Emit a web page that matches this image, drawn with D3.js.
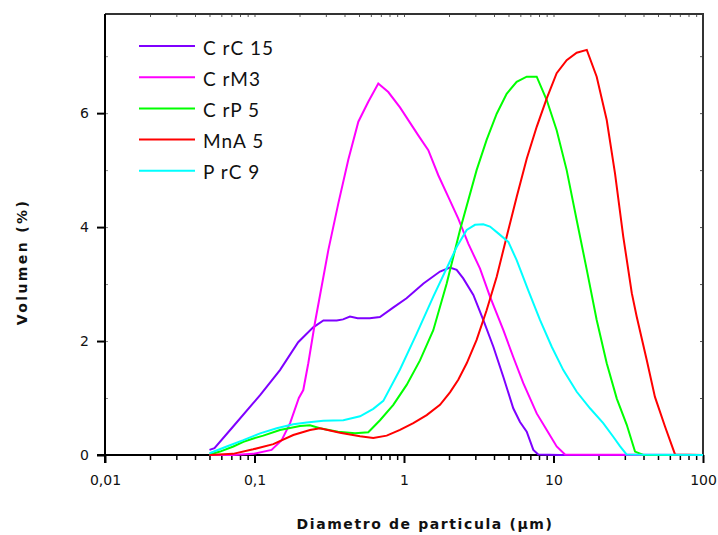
<!DOCTYPE html>
<html>
<head>
<meta charset="utf-8">
<script src="https://cdn.jsdelivr.net/npm/d3@7"></script>
<style>
  html, body { margin: 0; padding: 0; background: #fff; }
  svg { display: block; }
</style>
</head>
<body>
<svg id="chart" width="718" height="535"></svg>
<script>
// ---- Data (particle size in µm, volume in %) ----
const seriesNames = ["C rC 15", "C rM3", "C rP 5", "MnA 5", "P rC 9"];
const seriesColors = ["#7f00ff", "#ff00ff", "#00ff00", "#ff0000", "#00ffff"];

const sizeCrC15 = [0.05, 0.054, 0.072, 0.098, 0.109, 0.148, 0.196, 0.247, 0.289, 0.355, 0.391, 0.435, 0.49, 0.59, 0.69, 0.85, 1.04, 1.35, 1.74, 2.03, 2.25, 2.49, 2.91, 3.39, 3.96, 4.62, 5.38, 5.97, 6.62, 7.33, 7.91, 11, 100];
const volCrC15  = [0.09, 0.12, 0.5, 0.91, 1.05, 1.49, 1.98, 2.24, 2.36, 2.36, 2.38, 2.43, 2.40, 2.40, 2.42, 2.59, 2.75, 3.01, 3.22, 3.29, 3.25, 3.10, 2.81, 2.37, 1.90, 1.37, 0.82, 0.58, 0.41, 0.09, 0.01, 0, 0];

const sizeCrM3 = [0.05, 0.072, 0.098, 0.130, 0.152, 0.173, 0.198, 0.212, 0.229, 0.254, 0.312, 0.364, 0.424, 0.495, 0.577, 0.673, 0.785, 0.94, 1.246, 1.454, 1.696, 1.978, 2.307, 2.692, 3.225, 3.76, 4.62, 5.38, 6.28, 7.72, 9.01, 10.5, 11.94, 100];
const volCrM3  = [0, 0, 0.02, 0.09, 0.26, 0.56, 1.0, 1.14, 1.61, 2.33, 3.60, 4.42, 5.18, 5.85, 6.20, 6.52, 6.37, 6.10, 5.61, 5.35, 4.91, 4.53, 4.15, 3.71, 3.27, 2.78, 2.19, 1.72, 1.26, 0.73, 0.44, 0.15, 0.01, 0];

const sizeCrP5 = [0.05, 0.0588, 0.0722, 0.0842, 0.0982, 0.1145, 0.148, 0.2015, 0.235, 0.274, 0.362, 0.470, 0.577, 0.691, 0.848, 1.042, 1.279, 1.57, 1.93, 2.37, 3.06, 3.57, 4.17, 4.86, 5.67, 6.62, 7.72, 9.01, 10.5, 12.25, 14.3, 16.7, 19.45, 22.7, 26.5, 30.9, 35.1, 39.9, 100];
const volCrP5  = [0.01, 0.06, 0.15, 0.23, 0.29, 0.34, 0.44, 0.51, 0.52, 0.47, 0.41, 0.38, 0.40, 0.61, 0.88, 1.23, 1.66, 2.19, 3.01, 3.95, 5.0, 5.53, 5.99, 6.34, 6.55, 6.64, 6.64, 6.23, 5.70, 5.0, 4.12, 3.25, 2.37, 1.61, 0.99, 0.53, 0.06, 0, 0];

const sizeMnA5 = [0.05, 0.0718, 0.098, 0.1336, 0.1817, 0.235, 0.274, 0.373, 0.508, 0.623, 0.766, 0.94, 1.154, 1.418, 1.741, 2.03, 2.307, 2.627, 3.06, 3.57, 4.17, 4.86, 5.67, 6.62, 7.72, 9.01, 10.5, 12.25, 14.3, 16.7, 19.45, 22.7, 25.8, 29.3, 33.4, 36.0, 42.0, 47.7, 55.7, 65.0, 100];
const volMnA5  = [0, 0.02, 0.1, 0.19, 0.35, 0.44, 0.47, 0.39, 0.33, 0.30, 0.34, 0.44, 0.56, 0.70, 0.88, 1.10, 1.32, 1.61, 2.02, 2.54, 3.13, 3.83, 4.53, 5.2, 5.76, 6.26, 6.70, 6.93, 7.06, 7.11, 6.64, 5.88, 4.94, 3.83, 2.84, 2.43, 1.67, 1.02, 0.50, 0.01, 0];

const sizePrC9 = [0.05, 0.0652, 0.0842, 0.109, 0.1408, 0.1817, 0.2235, 0.2885, 0.3926, 0.508, 0.623, 0.727, 0.94, 1.216, 1.57, 2.03, 2.25, 2.627, 2.985, 3.39, 3.76, 4.27, 4.99, 5.67, 6.78, 8.12, 9.73, 11.63, 14.3, 17.54, 21.5, 25.1, 27.9, 30.8, 100];
const volPrC9  = [0.03, 0.15, 0.26, 0.38, 0.47, 0.54, 0.57, 0.60, 0.61, 0.68, 0.81, 0.95, 1.50, 2.13, 2.78, 3.40, 3.65, 3.95, 4.04, 4.05, 4.01, 3.89, 3.74, 3.42, 2.89, 2.37, 1.90, 1.49, 1.11, 0.82, 0.56, 0.32, 0.15, 0.01, 0];

const xTickValues = [0.01, 0.1, 1, 10, 100];
const xTickLabels = ["0,01", "0,1", "1", "10", "100"];
const yTickValues = [0, 2, 4, 6];
const yTickLabels = ["0", "2", "4", "6"];

const xTitle = "Diametro de particula (µm)";
const yTitle = "Volumen (%)";

// ---- Build series table ----
const sizes = [sizeCrC15, sizeCrM3, sizeCrP5, sizeMnA5, sizePrC9];
const vols = [volCrC15, volCrM3, volCrP5, volMnA5, volPrC9];
const series = seriesNames.map((name, i) => ({
  name, color: seriesColors[i],
  points: sizes[i].map((s, j) => ({ x: s, y: vols[i][j] }))
}));

// ---- Layout ----
const svg = d3.select("#chart");
const L = 105, R = 703, T = 14, B = 455;

const x = d3.scaleLog().domain([0.01, 100]).range([L, R]);
const y = d3.scaleLinear().domain([0, 7.74]).range([B, T]);

const tickFont = "'DejaVu Sans', Verdana, sans-serif";

// minor x ticks
const minorX = [];
for (let d = 0.01; d < 100; d *= 10) {
  for (let k = 2; k <= 9; k++) minorX.push(+(d * k).toPrecision(3));
}

// bottom minor ticks (outward)
svg.append("g")
  .attr("transform", `translate(0,${B})`)
  .call(d3.axisBottom(x).tickValues(minorX).tickSize(5).tickFormat(""))
  .call(g => g.select(".domain").remove())
  .call(g => g.selectAll("line").attr("stroke", "#000").attr("stroke-width", 1.5));

// top minor ticks (inward)
svg.append("g")
  .attr("transform", `translate(0,${T})`)
  .call(d3.axisBottom(x).tickValues(minorX.concat(xTickValues)).tickSize(3).tickFormat(""))
  .call(g => g.select(".domain").remove())
  .call(g => g.selectAll("line").attr("stroke", "#555").attr("stroke-width", 1));

// right ticks inward
svg.append("g")
  .attr("transform", `translate(${R},0)`)
  .call(d3.axisLeft(y).tickValues([1, 2, 3, 4, 5, 6, 7]).tickSize(3).tickFormat(""))
  .call(g => g.select(".domain").remove())
  .call(g => g.selectAll("line").attr("stroke", "#555").attr("stroke-width", 1));

// left minor ticks inward
svg.append("g")
  .attr("transform", `translate(${L},0)`)
  .call(d3.axisRight(y).tickValues([1, 2, 3, 4, 5, 6, 7]).tickSize(3).tickFormat(""))
  .call(g => g.select(".domain").remove())
  .call(g => g.selectAll("line").attr("stroke", "#888").attr("stroke-width", 1));

// top and right frame
svg.append("path")
  .attr("d", `M${L},${T}H${R}V${B}`)
  .attr("fill", "none").attr("stroke", "#333").attr("stroke-width", 2);

// bottom axis major
const xAxis = svg.append("g")
  .attr("transform", `translate(0,${B})`)
  .call(d3.axisBottom(x).tickValues(xTickValues).tickSize(8).tickPadding(12)
    .tickFormat((d, i) => xTickLabels[i]))
  .call(g => g.select(".domain").attr("d", `M${L - 8},0H${R}`).attr("stroke", "#000").attr("stroke-width", 2))
  .call(g => g.selectAll("line").attr("stroke", "#000").attr("stroke-width", 2))
  .call(g => g.selectAll("text").attr("fill", "#111").style("font-family", tickFont).style("font-size", "14px"));

// left axis major
svg.append("g")
  .attr("transform", `translate(${L},0)`)
  .call(d3.axisLeft(y).tickValues(yTickValues).tickSize(8).tickPadding(8)
    .tickFormat((d, i) => yTickLabels[i]))
  .call(g => g.select(".domain").attr("d", `M0,${T}V${B + 8}`).attr("stroke", "#000").attr("stroke-width", 2))
  .call(g => g.selectAll("line").attr("stroke", "#000").attr("stroke-width", 2))
  .call(g => g.selectAll("text").attr("fill", "#111").style("font-family", tickFont).style("font-size", "14px"));

// ---- Curves ----
const line = d3.line().x(d => x(d.x)).y(d => y(d.y));
svg.append("g").selectAll("path")
  .data(series)
  .join("path")
  .attr("d", d => line(d.points))
  .attr("fill", "none")
  .attr("stroke", d => d.color)
  .attr("stroke-width", 2)
  .attr("stroke-linejoin", "miter");

// ---- Legend ----
const leg = svg.append("g");
series.forEach((s, i) => {
  const ly = 46 + i * 31.2;
  leg.append("line").attr("x1", 139).attr("x2", 195).attr("y1", ly).attr("y2", ly)
    .attr("stroke", s.color).attr("stroke-width", 2);
  leg.append("text").attr("x", 203).attr("y", ly + 8.5)
    .text(s.name)
    .style("font-family", "Lato, 'Open Sans', sans-serif")
    .style("font-size", "19px")
    .style("letter-spacing", "1px")
    .attr("fill", "#111");
});

// ---- Axis titles ----
svg.append("text")
  .attr("x", 425).attr("y", 529)
  .attr("text-anchor", "middle")
  .text(xTitle)
  .style("font-family", tickFont)
  .style("font-weight", "bold")
  .style("font-size", "14px")
  .style("letter-spacing", "1.6px")
  .attr("fill", "#111");

svg.append("text")
  .attr("transform", "translate(27,262) rotate(-90)")
  .attr("text-anchor", "middle")
  .text(yTitle)
  .style("font-family", tickFont)
  .style("font-weight", "bold")
  .style("font-size", "14px")
  .style("letter-spacing", "2.4px")
  .attr("fill", "#111");
</script>
</body>
</html>
